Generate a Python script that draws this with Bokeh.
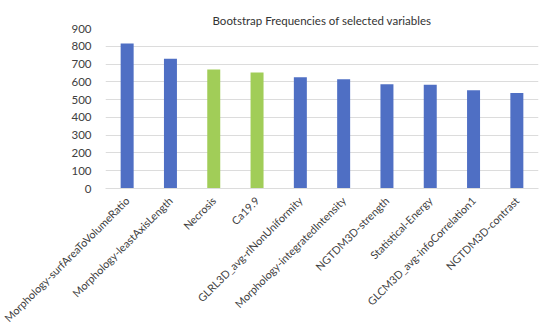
from math import pi
from bokeh.plotting import figure
from bokeh.models import ColumnDataSource, Range1d, FactorRange, FixedTicker
from bokeh.transform import factor_cmap
from bokeh.embed import file_html
from bokeh.resources import INLINE

variables = [
    "Morphology-surfAreaToVolumeRatio",
    "Morphology-leastAxisLength",
    "Necrosis",
    "Ca19.9",
    "GLRL3D_avg-rlNonUniformity",
    "Morphology-integratedIntensity",
    "NGTDM3D-strength",
    "Statistical-Energy",
    "GLCM3D_avg-infoCorrelation1",
    "NGTDM3D-contrast",
]
frequencies = [815, 730, 670, 652, 626, 615, 587, 583, 552, 537]
kinds = ["radiomic", "radiomic", "clinical", "clinical", "radiomic",
         "radiomic", "radiomic", "radiomic", "radiomic", "radiomic"]
y_ticks = [0, 100, 200, 300, 400, 500, 600, 700, 800, 900]

source = ColumnDataSource(dict(x=variables, top=frequencies, kind=kinds))

p = figure(
    frame_width=433, frame_height=160,
    x_range=FactorRange(*variables, range_padding=0),
    y_range=Range1d(0, 900),
    output_backend="svg", toolbar_location=None,
    title="Bootstrap Frequencies of selected variables",
    min_border_left=105, min_border_right=8, min_border_top=28,
    min_border_bottom=0,
)
p.vbar(x="x", top="top", width=0.3, source=source, line_color=None,
       fill_color=factor_cmap("kind", palette=["#4F6FC4", "#A1CD58"],
                              factors=["radiomic", "clinical"]))

p.title.align = "center"
p.title.vertical_align = "top"
p.title.text_font = "Lato"
p.title.text_font_size = "11.5px"
p.title.text_font_style = "normal"
p.title.text_color = "#333333"
p.title.offset = 0
p.title.standoff = 0

p.outline_line_color = None
p.xgrid.grid_line_color = None
p.ygrid.grid_line_color = "#DCDCDC"
p.ygrid.grid_line_width = 1

p.yaxis.ticker = FixedTicker(ticks=y_ticks)
p.yaxis.axis_line_color = None
p.yaxis.major_tick_line_color = None
p.yaxis.minor_tick_line_color = None
p.yaxis.major_label_text_font = "Lato"
p.yaxis.major_label_text_font_size = "11.5px"
p.yaxis.major_label_text_color = "#404040"
p.yaxis.major_label_standoff = 8

p.xaxis.axis_line_color = "#DCDCDC"
p.xaxis.major_tick_line_color = None
p.xaxis.minor_tick_line_color = None
p.xaxis.major_label_orientation = pi / 4
p.xaxis.major_label_text_font = "Lato"
p.xaxis.major_label_text_font_size = "10.8px"
p.xaxis.major_label_text_color = "#404040"
p.xaxis.major_label_standoff = 4

open("out.html", "w").write(file_html(p, INLINE))
